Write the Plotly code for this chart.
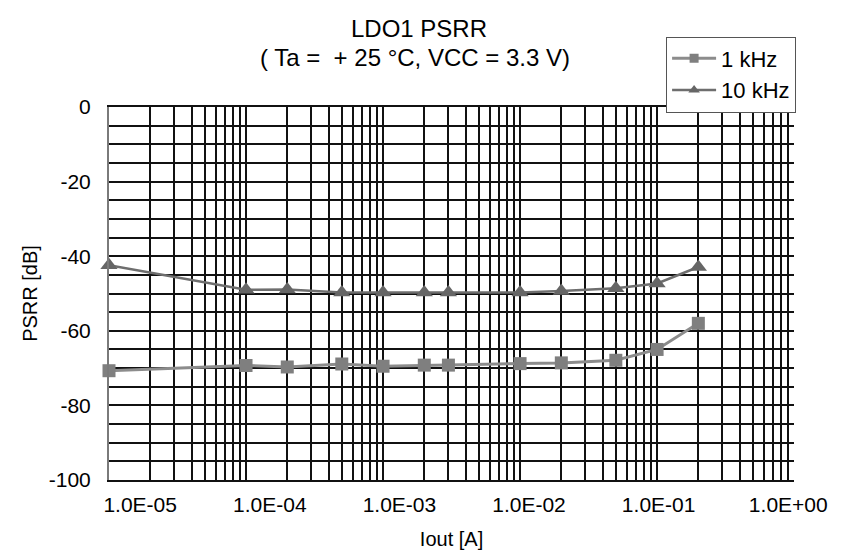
import plotly.graph_objects as go

# Data
iout = [1e-5, 1e-4, 2e-4, 5e-4, 1e-3, 2e-3, 3e-3, 1e-2, 2e-2, 5e-2, 1e-1, 2e-1]
psrr_1k = [-70.7, -69.3, -69.7, -68.9, -69.5, -69.2, -69.2, -68.8, -68.6, -67.9, -65.0, -58.0]
psrr_10k = [-42.4, -49.0, -48.9, -49.7, -49.7, -49.7, -49.7, -49.7, -49.3, -48.6, -47.3, -42.9]
xtick_vals = [1e-5, 1e-4, 1e-3, 1e-2, 1e-1, 1e0]
xtick_text = ["1.0E-05", "1.0E-04", "1.0E-03", "1.0E-02", "1.0E-01", "1.0E+00"]
ytick_vals = [0, -20, -40, -60, -80, -100]
ytick_text = ["0", "-20", "-40", "-60", "-80", "-100"]
series_names = ["1 kHz", "10 kHz"]

FONT = "Liberation Sans, Arial, Helvetica, sans-serif"

# layout geometry (pixels)
L, R_MARGIN, T, B = 101, 38, 99, 75
PAPER_W = 842 - L - R_MARGIN          # 703
PLOT_W = 693                           # grid area width (101 -> 794)

styles = [
    dict(line=dict(color="#8c8c8c", width=3), symbol="square", size=13, mcolor="#7f7f7f", lsize=9),
    dict(line=dict(color="#6e6e6e", width=2.5), symbol="triangle-up", size=15, mcolor="#666666", lsize=10),
]
series = [psrr_1k, psrr_10k]

fig = go.Figure()
for name, vals, st in zip(series_names, series, styles):
    fig.add_trace(go.Scatter(
        x=iout, y=vals, name=name, legendgroup=name, showlegend=False,
        mode="lines+markers", line=st["line"],
        marker=dict(symbol=st["symbol"], size=st["size"], color=st["mcolor"]),
        cliponaxis=False,
    ))
    # legend entry (smaller marker, as in the reference legend)
    fig.add_trace(go.Scatter(
        x=[None], y=[None], name=name, legendgroup=name, showlegend=True,
        mode="lines+markers", line=st["line"],
        marker=dict(symbol=st["symbol"], size=st["lsize"], color=st["mcolor"]),
    ))
# empty helper trace so that the label axis (x2) is drawn
fig.add_trace(go.Scatter(
    x=xtick_vals, y=[None] * len(xtick_vals), xaxis="x2", yaxis="y",
    mode="markers", marker=dict(opacity=0), showlegend=False, hoverinfo="skip",
))

fig.update_layout(
    width=842, height=550,
    margin=dict(l=L, r=R_MARGIN, t=T, b=B),
    paper_bgcolor="white", plot_bgcolor="white",
    font=dict(family=FONT, color="black", size=21),
    title=dict(text="LDO1 PSRR", x=411 / 842, xanchor="center",
               y=1 - 21 / 550, yanchor="middle", yref="container",
               font=dict(size=24, family=FONT, color="black")),
    showlegend=True,
    legend=dict(x=(796 - L) / PAPER_W, xanchor="right", y=1.189, yanchor="top",
                bordercolor="#555555", borderwidth=1, bgcolor="white",
                font=dict(size=22, family=FONT, color="black"),
                itemwidth=44, tracegroupgap=0),
)
fig.add_annotation(
    text="( Ta =  + 25 °C, VCC = 3.3 V)", xref="paper", yref="paper",
    x=(411 - L) / PAPER_W, y=(475 - 49) / 376, xanchor="center", yanchor="middle",
    showarrow=False, font=dict(size=24, family=FONT, color="black"),
)

# primary x axis: data scale and grid
fig.update_xaxes(
    type="log", range=[-5, 0], domain=[0, PLOT_W / PAPER_W],
    tickmode="array", tickvals=xtick_vals, showticklabels=False,
    ticks="",
    showgrid=True, gridcolor="#111111", gridwidth=1.5,
    minor=dict(dtick="D1", showgrid=True, gridcolor="#111111", gridwidth=1.5, ticks=""),
    showline=True, linecolor="#111111", linewidth=2, mirror=True,
    zeroline=False,
)
# label axis: the reference prints its decade labels slightly offset from the grid
fig.update_layout(xaxis2=dict(
    type="log", range=[-5 - 32 / 133, 6 / 133],
    domain=[0, 1], overlaying="x", side="bottom",
    anchor="y", tickmode="array", tickvals=xtick_vals, ticktext=xtick_text,
    ticks="", ticklabelstandoff=10, tickfont=dict(size=21, family=FONT, color="black"),
    showgrid=False, showline=False, zeroline=False,
    title=dict(text="Iout [A]", font=dict(size=20, family=FONT, color="black"), standoff=16),
))
fig.update_yaxes(
    range=[-100, 0], tickmode="array", tickvals=ytick_vals, ticktext=ytick_text,
    ticks="", ticklabelstandoff=12,
    tickfont=dict(size=21),
    showgrid=True, gridcolor="#111111", gridwidth=1.5,
    minor=dict(dtick=5, showgrid=True, gridcolor="#111111", gridwidth=1.5, ticks=""),
    showline=True, linecolor="#7a7a7a", linewidth=2, mirror=False,
    zeroline=False,
    title=dict(text="PSRR [dB]", font=dict(size=20), standoff=6),
)

fig.write_html("out.html")
